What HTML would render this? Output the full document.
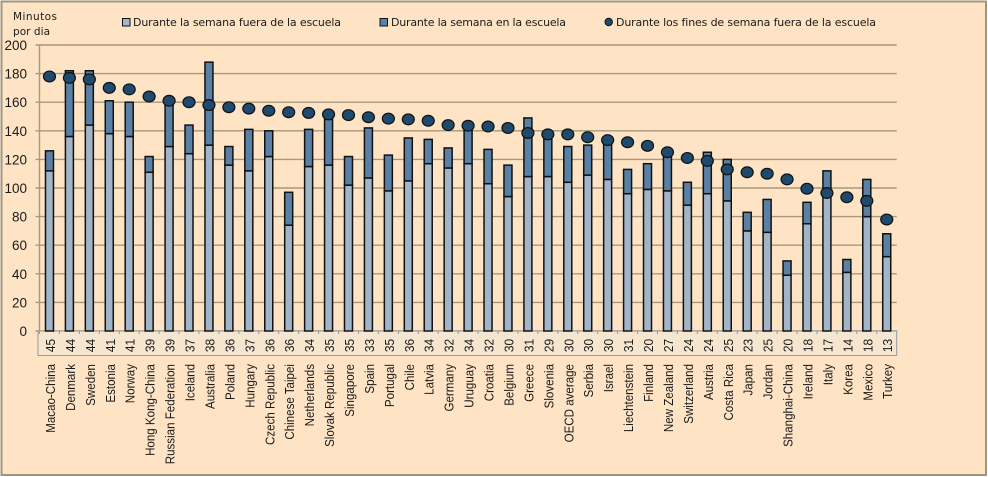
<!DOCTYPE html>
<html lang="es">
<head>
<meta charset="utf-8">
<title>Minutos por día</title>
<style>
html,body{margin:0;padding:0;background:#fff;width:988px;height:477px;overflow:hidden}
svg{display:block}
text{font-family:"Liberation Sans",sans-serif;fill:#1a1a1a}
text.dj{font-family:"DejaVu Sans","Liberation Sans",sans-serif}
</style>
</head>
<body>
<svg id="chart" width="988" height="477" viewBox="0 0 988 477" xmlns="http://www.w3.org/2000/svg">
<rect x="1.5" y="1.5" width="984.5" height="473.5" fill="#fee4c5" stroke="#a39678" stroke-width="2"/>
<text class="dj" x="13" y="20" font-size="10.5" textLength="44">Minutos</text>
<text class="dj" x="13" y="35" font-size="10.5" textLength="37">por dia</text>
<g>
<rect x="122.5" y="18.5" width="7.5" height="7.5" fill="#a3b6cb" stroke="#111" stroke-width="1"/>
<text class="dj" x="133" y="26" font-size="11" textLength="208">Durante la semana fuera de la escuela</text>
<rect x="380" y="18.5" width="7.5" height="7.5" fill="#5b82a8" stroke="#111" stroke-width="1"/>
<text class="dj" x="391" y="26" font-size="11" textLength="175">Durante la semana en la escuela</text>
<circle cx="608.7" cy="22" r="3.7" fill="#1f4a6e" stroke="#111" stroke-width="1"/>
<text class="dj" x="616" y="26" font-size="11" textLength="260">Durante los fines de semana fuera de la escuela</text>
</g>
<g id="plot"></g>
</svg>
<script>
const categories = ["Macao-China","Denmark","Sweden","Estonia","Norway","Hong Kong-China","Russian Federation","Iceland","Australia","Poland","Hungary","Czech Republic","Chinese Taipei","Netherlands","Slovak Republic","Singapore","Spain","Portugal","Chile","Latvia","Germany","Uruguay","Croatia","Belgium","Greece","Slovenia","OECD average","Serbia","Israel","Liechtenstein","Finland","New Zealand","Switzerland","Austria","Costa Rica","Japan","Jordan","Shanghai-China","Ireland","Italy","Korea","Mexico","Turkey"];
const weekOutside = [112,136,144,138,136,111,129,124,130,116,112,122,74,115,116,102,107,98,105,117,114,117,103,94,108,108,104,109,106,96,99,98,88,96,91,70,69,39,75,95,41,80,52];
const weekAtSchool = [14,46,38,23,24,11,31,20,58,13,29,18,23,26,32,20,35,25,30,17,14,29,24,22,41,28,25,21,27,17,18,24,16,29,29,13,23,10,15,17,9,26,16];
const weekendOutside = [178,177,176,170,169,164,161,160,158,156.5,155.5,154,153,152.5,151.5,151,149.5,148.5,148,147,144,143.5,143,142,138.5,137.5,137.5,135.5,133.5,132,129.5,125,121,119,113,111,110,106,99.5,96.5,93.5,91,78];
const tableValues = [45,44,44,41,41,39,39,37,38,36,37,36,36,34,35,35,33,35,36,34,32,34,32,30,31,29,30,30,30,31,20,27,24,24,25,23,25,20,18,17,14,18,13];
const yTicks = [0,20,40,60,80,100,120,140,160,180,200];

const NS = "http://www.w3.org/2000/svg";
const plot = document.getElementById("plot");
const left = 39.5, right = 896.7, y0 = 331, y200 = 45, tableBottom = 355.5;
const step = (right - left) / categories.length;
const xCenter = i => left + step * (i + 0.5);
const yScale = v => y0 - (v / 200) * (y0 - y200);
const make = (tag, attrs, text) => {
  const el = document.createElementNS(NS, tag);
  for (const k in attrs) el.setAttribute(k, attrs[k]);
  if (text !== undefined) el.textContent = text;
  plot.appendChild(el);
  return el;
};

yTicks.forEach(t => {
  const y = yScale(t);
  const line = make("line", {x1: left - 4, x2: right, y1: y, y2: y, stroke: "#a8987c", "stroke-width": 1.4});
  
  
  const label = make("text", {x: 27, y: y + 5, "text-anchor": "end", "font-size": 13.5}, t);
  
  
});
const yAxis = make("line", {x1: left, x2: left, y1: y200, y2: y0, stroke: "#a8987c", "stroke-width": 1.4});



const table = make("rect", {x: 38, y: y0, width: right - 38, height: tableBottom - y0, fill: "#f6e6cf", stroke: "#8f9aa3", "stroke-width": 1});



categories.forEach((c, i) => {
  const x = xCenter(i);
  const tick = make("line", {x1: left + step * i, x2: left + step * i, y1: y0, y2: y0 + 3, stroke: "#8f9aa3", "stroke-width": 1});
  
  

  const low = make("rect", {x: x - 4, y: yScale(weekOutside[i]), width: 8, height: y0 - yScale(weekOutside[i]), fill: "#a2b4c8", stroke: "#111", "stroke-width": 1.5});
  
  

  const topValue = weekOutside[i] + weekAtSchool[i];
  const high = make("rect", {x: x - 4, y: yScale(topValue), width: 8, height: yScale(weekOutside[i]) - yScale(topValue), fill: "#5a80a6", stroke: "#111", "stroke-width": 1.5});
  
  

  const value = make("text", {transform: `translate(${x + 5.5},345.5) rotate(-90) scale(.92,1)`, "text-anchor": "middle", "font-size": 13, fill: "#333"}, tableValues[i]);
  
  

  const label = make("text", {transform: `translate(${x + 5.5},364) rotate(-90) scale(.89,1)`, "text-anchor": "end", "font-size": 13}, c);
  
  
});

categories.forEach((c, i) => {
  const dot = make("ellipse", {cx: xCenter(i), cy: yScale(weekendOutside[i]), rx: 6, ry: 5.4, fill: "#1f4a6e", stroke: "#111", "stroke-width": 1.2});
  
  
});
</script>
</body>
</html>
